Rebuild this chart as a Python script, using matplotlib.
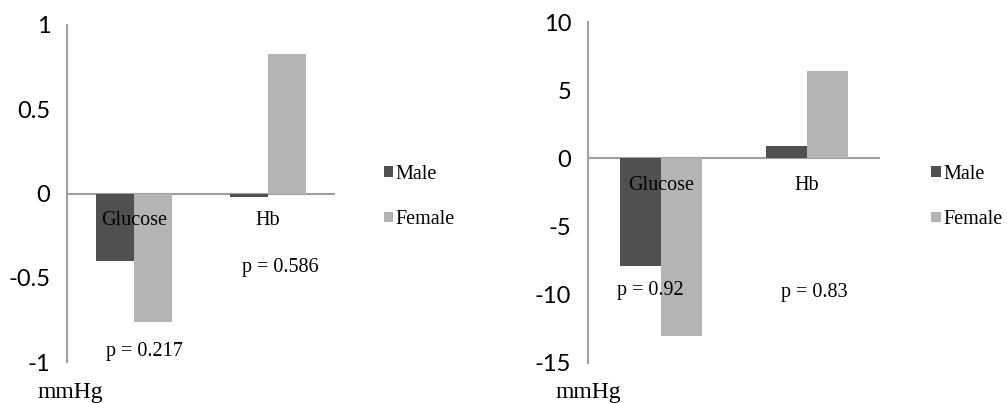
import numpy as np
from matplotlib import pyplot as plt

categories = ["Glucose", "Hb"]
series = ["Male", "Female"]

# left panel
left_male = [-0.40, -0.02]
left_female = [-0.76, 0.83]
left_p = ["p = 0.217", "p = 0.586"]

# right panel
right_male = [-7.9, 0.9]
right_female = [-13.0, 6.4]
right_p = ["p = 0.92", "p = 0.83"]

MALE_COLOR = "#505050"
FEMALE_COLOR = "#b4b4b4"
AXIS_COLOR = "#a0a0a0"
SERIF = "Liberation Serif"
SANS = "Lato"


def draw_panel(ax, male, female, ylim, yticks, cat_y, p_pos, p_text):
    x = np.arange(len(categories))
    w = 0.28
    ax.bar(x - w / 2, male, w, color=MALE_COLOR, label=series[0], zorder=2)
    ax.bar(x + w / 2, female, w, color=FEMALE_COLOR, label=series[1], zorder=2)
    ax.axhline(0, color=AXIS_COLOR, lw=1.5, zorder=1)
    ax.set_xlim(-0.5, 1.5)
    ax.set_ylim(*ylim)
    ax.set_yticks(yticks)
    ax.set_yticklabels(["%g" % v for v in yticks], fontfamily=SANS, fontsize=17)
    ax.set_xticks([])
    ax.tick_params(axis="y", length=0, pad=12)
    for s in ("top", "right", "bottom"):
        ax.spines[s].set_visible(False)
    ax.spines["left"].set_color(AXIS_COLOR)
    ax.spines["left"].set_linewidth(1.5)
    for i, c in enumerate(categories):
        ax.text(i, cat_y, c, ha="center", va="center", fontfamily=SERIF,
                fontsize=14.5, zorder=4)
    for (px, py), t in zip(p_pos, p_text):
        ax.text(px, py, t, ha="center", va="center", fontfamily=SERIF,
                fontsize=14.5, zorder=4)
    ax.patch.set_alpha(0)


fig = plt.figure(figsize=(10.07, 4.03), dpi=100)

ax1 = fig.add_axes([0.0665, 0.1017, 0.2662, 0.8363])
draw_panel(ax1, left_male, left_female, (-1, 1), [-1, -0.5, 0, 0.5, 1],
           -0.16, [(0.08, -0.94), (1.09, -0.44)], left_p)

ax2 = fig.add_axes([0.5839, 0.0993, 0.2900, 0.8461])
draw_panel(ax2, right_male, right_female, (-15, 10), [-15, -10, -5, 0, 5, 10],
           -2.0, [(-0.07, -9.7), (1.05, -9.8)], right_p)

for ax, lx in ((ax1, 0.381), (ax2, 0.925)):
    ax.legend(loc="center left", bbox_to_anchor=(lx, 0.511), bbox_transform=fig.transFigure,
              frameon=False, prop={"family": SERIF, "size": 14.5},
              handlelength=0.45, handleheight=0.45, handletextpad=0.15,
              labelspacing=1.3, borderaxespad=0, borderpad=0)

fig.text(70 / 1007, 0.0, "mmHg", ha="center", va="bottom", fontfamily=SERIF, fontsize=17)
fig.text(588 / 1007, 0.0, "mmHg", ha="center", va="bottom", fontfamily=SERIF, fontsize=17)

fig.savefig("out.png", dpi=100)
